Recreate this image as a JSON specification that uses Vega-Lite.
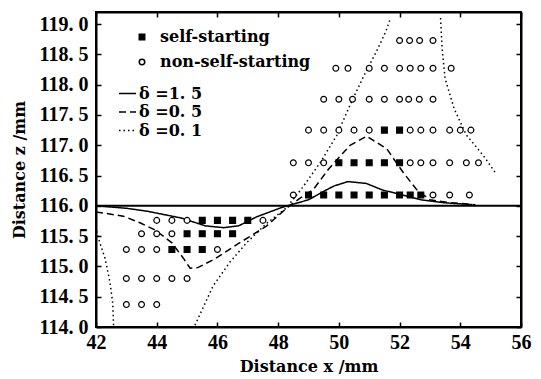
{
  "$schema": "https://vega.github.io/schema/vega-lite/v6.json",
  "width": 425,
  "height": 315,
  "autosize": "none",
  "padding": {"left": 96, "top": 12, "right": 20, "bottom": 52},
  "background": "white",
  "config": {
    "view": {"stroke": "black", "strokeWidth": 2},
    "axis": {
      "domainColor": "black", "domainWidth": 2, "tickColor": "black", "tickWidth": 1.5, "tickSize": -5,
      "labelFont": "Liberation Serif", "labelFontWeight": "bold", "labelFontSize": 20, "labelColor": "black",
      "titleFont": "DejaVu Serif", "titleFontWeight": "bold", "titleFontSize": 16, "titleColor": "black",
      "grid": false, "labelFlush": false
    }
  },
  "datasets": {
    "hline": [{"x": 42, "y": 116}, {"x": 56, "y": 116}],
    "curves": [
      {"x": 42, "y": 116.0, "d": "δ =1. 5", "seg": "a"},
      {"x": 43, "y": 115.96, "d": "δ =1. 5", "seg": "a"},
      {"x": 43.7, "y": 115.91, "d": "δ =1. 5", "seg": "a"},
      {"x": 44.8, "y": 115.8, "d": "δ =1. 5", "seg": "a"},
      {"x": 45.6, "y": 115.67, "d": "δ =1. 5", "seg": "a"},
      {"x": 46.2, "y": 115.64, "d": "δ =1. 5", "seg": "a"},
      {"x": 46.7, "y": 115.67, "d": "δ =1. 5", "seg": "a"},
      {"x": 47.3, "y": 115.82, "d": "δ =1. 5", "seg": "a"},
      {"x": 48.1, "y": 115.97, "d": "δ =1. 5", "seg": "a"},
      {"x": 48.3, "y": 116.0, "d": "δ =1. 5", "seg": "a"},
      {"x": 49.0, "y": 116.1, "d": "δ =1. 5", "seg": "a"},
      {"x": 49.5, "y": 116.24, "d": "δ =1. 5", "seg": "a"},
      {"x": 49.85, "y": 116.33, "d": "δ =1. 5", "seg": "a"},
      {"x": 50.3, "y": 116.4, "d": "δ =1. 5", "seg": "a"},
      {"x": 50.9, "y": 116.37, "d": "δ =1. 5", "seg": "a"},
      {"x": 51.45, "y": 116.26, "d": "δ =1. 5", "seg": "a"},
      {"x": 52.1, "y": 116.18, "d": "δ =1. 5", "seg": "a"},
      {"x": 52.7, "y": 116.1, "d": "δ =1. 5", "seg": "a"},
      {"x": 53.5, "y": 116.05, "d": "δ =1. 5", "seg": "a"},
      {"x": 54.4, "y": 116.02, "d": "δ =1. 5", "seg": "a"},
      {"x": 42, "y": 115.9, "d": "δ =0. 5", "seg": "b"},
      {"x": 42.9, "y": 115.83, "d": "δ =0. 5", "seg": "b"},
      {"x": 43.45, "y": 115.72, "d": "δ =0. 5", "seg": "b"},
      {"x": 43.95, "y": 115.6, "d": "δ =0. 5", "seg": "b"},
      {"x": 44.5, "y": 115.39, "d": "δ =0. 5", "seg": "b"},
      {"x": 44.9, "y": 115.12, "d": "δ =0. 5", "seg": "b"},
      {"x": 45.1, "y": 114.97, "d": "δ =0. 5", "seg": "b"},
      {"x": 45.35, "y": 114.98, "d": "δ =0. 5", "seg": "b"},
      {"x": 45.9, "y": 115.12, "d": "δ =0. 5", "seg": "b"},
      {"x": 46.7, "y": 115.38, "d": "δ =0. 5", "seg": "b"},
      {"x": 47.6, "y": 115.66, "d": "δ =0. 5", "seg": "b"},
      {"x": 48.3, "y": 115.97, "d": "δ =0. 5", "seg": "b"},
      {"x": 48.7, "y": 116.12, "d": "δ =0. 5", "seg": "b"},
      {"x": 49.16, "y": 116.27, "d": "δ =0. 5", "seg": "b"},
      {"x": 49.65, "y": 116.6, "d": "δ =0. 5", "seg": "b"},
      {"x": 50.37, "y": 117.0, "d": "δ =0. 5", "seg": "b"},
      {"x": 50.92, "y": 117.15, "d": "δ =0. 5", "seg": "b"},
      {"x": 51.58, "y": 116.94, "d": "δ =0. 5", "seg": "b"},
      {"x": 52.12, "y": 116.55, "d": "δ =0. 5", "seg": "b"},
      {"x": 52.56, "y": 116.27, "d": "δ =0. 5", "seg": "b"},
      {"x": 53.0, "y": 116.1, "d": "δ =0. 5", "seg": "b"},
      {"x": 53.7, "y": 116.05, "d": "δ =0. 5", "seg": "b"},
      {"x": 54.5, "y": 116.02, "d": "δ =0. 5", "seg": "b"},
      {"x": 42.02, "y": 115.58, "d": "δ =0. 1", "seg": "c1"},
      {"x": 42.12, "y": 115.4, "d": "δ =0. 1", "seg": "c1"},
      {"x": 42.3, "y": 115.13, "d": "δ =0. 1", "seg": "c1"},
      {"x": 42.46, "y": 114.74, "d": "δ =0. 1", "seg": "c1"},
      {"x": 42.55, "y": 114.4, "d": "δ =0. 1", "seg": "c1"},
      {"x": 42.58, "y": 114.0, "d": "δ =0. 1", "seg": "c1"},
      {"x": 45.26, "y": 114.03, "d": "δ =0. 1", "seg": "c2"},
      {"x": 45.86, "y": 114.68, "d": "δ =0. 1", "seg": "c2"},
      {"x": 46.41, "y": 115.07, "d": "δ =0. 1", "seg": "c2"},
      {"x": 46.96, "y": 115.39, "d": "δ =0. 1", "seg": "c2"},
      {"x": 47.62, "y": 115.71, "d": "δ =0. 1", "seg": "c2"},
      {"x": 48.28, "y": 115.97, "d": "δ =0. 1", "seg": "c2"},
      {"x": 48.8, "y": 116.3, "d": "δ =0. 1", "seg": "c2"},
      {"x": 49.38, "y": 116.71, "d": "δ =0. 1", "seg": "c2"},
      {"x": 49.93, "y": 117.16, "d": "δ =0. 1", "seg": "c2"},
      {"x": 50.4, "y": 117.7, "d": "δ =0. 1", "seg": "c2"},
      {"x": 50.8, "y": 118.12, "d": "δ =0. 1", "seg": "c2"},
      {"x": 51.25, "y": 118.56, "d": "δ =0. 1", "seg": "c2"},
      {"x": 51.55, "y": 118.88, "d": "δ =0. 1", "seg": "c2"},
      {"x": 51.7, "y": 119.1, "d": "δ =0. 1", "seg": "c2"},
      {"x": 53.35, "y": 119.1, "d": "δ =0. 1", "seg": "c3"},
      {"x": 53.4, "y": 118.6, "d": "δ =0. 1", "seg": "c3"},
      {"x": 53.5, "y": 118.1, "d": "δ =0. 1", "seg": "c3"},
      {"x": 53.8, "y": 117.6, "d": "δ =0. 1", "seg": "c3"},
      {"x": 54.2, "y": 117.17, "d": "δ =0. 1", "seg": "c3"},
      {"x": 54.76, "y": 116.83, "d": "δ =0. 1", "seg": "c3"},
      {"x": 55.15, "y": 116.55, "d": "δ =0. 1", "seg": "c3"}
    ],
    "points": [
      {"x": 44, "y": 115.76, "t": "non-self-starting"},
      {"x": 44.5, "y": 115.76, "t": "non-self-starting"},
      {"x": 45, "y": 115.76, "t": "non-self-starting"},
      {"x": 45.5, "y": 115.76, "t": "self-starting"},
      {"x": 46, "y": 115.76, "t": "self-starting"},
      {"x": 46.5, "y": 115.76, "t": "self-starting"},
      {"x": 47, "y": 115.76, "t": "self-starting"},
      {"x": 47.5, "y": 115.76, "t": "non-self-starting"},
      {"x": 43.5, "y": 115.54, "t": "non-self-starting"},
      {"x": 44, "y": 115.54, "t": "non-self-starting"},
      {"x": 44.5, "y": 115.54, "t": "non-self-starting"},
      {"x": 45, "y": 115.54, "t": "self-starting"},
      {"x": 45.5, "y": 115.54, "t": "self-starting"},
      {"x": 46, "y": 115.54, "t": "self-starting"},
      {"x": 46.5, "y": 115.54, "t": "self-starting"},
      {"x": 43, "y": 115.28, "t": "non-self-starting"},
      {"x": 43.5, "y": 115.28, "t": "non-self-starting"},
      {"x": 44, "y": 115.28, "t": "non-self-starting"},
      {"x": 44.5, "y": 115.28, "t": "self-starting"},
      {"x": 45, "y": 115.28, "t": "self-starting"},
      {"x": 45.5, "y": 115.28, "t": "self-starting"},
      {"x": 46, "y": 115.28, "t": "non-self-starting"},
      {"x": 43, "y": 114.8, "t": "non-self-starting"},
      {"x": 43.5, "y": 114.8, "t": "non-self-starting"},
      {"x": 44, "y": 114.8, "t": "non-self-starting"},
      {"x": 44.5, "y": 114.8, "t": "non-self-starting"},
      {"x": 45, "y": 114.8, "t": "non-self-starting"},
      {"x": 43, "y": 114.37, "t": "non-self-starting"},
      {"x": 43.5, "y": 114.37, "t": "non-self-starting"},
      {"x": 44, "y": 114.37, "t": "non-self-starting"},
      {"x": 52.0, "y": 118.73, "t": "non-self-starting"},
      {"x": 52.33, "y": 118.73, "t": "non-self-starting"},
      {"x": 52.66, "y": 118.73, "t": "non-self-starting"},
      {"x": 53.1, "y": 118.73, "t": "non-self-starting"},
      {"x": 49.9, "y": 118.27, "t": "non-self-starting"},
      {"x": 50.3, "y": 118.27, "t": "non-self-starting"},
      {"x": 51.0, "y": 118.27, "t": "non-self-starting"},
      {"x": 51.5, "y": 118.27, "t": "non-self-starting"},
      {"x": 52.0, "y": 118.27, "t": "non-self-starting"},
      {"x": 52.35, "y": 118.27, "t": "non-self-starting"},
      {"x": 52.7, "y": 118.27, "t": "non-self-starting"},
      {"x": 53.1, "y": 118.27, "t": "non-self-starting"},
      {"x": 53.7, "y": 118.27, "t": "non-self-starting"},
      {"x": 49.5, "y": 117.76, "t": "non-self-starting"},
      {"x": 50.0, "y": 117.76, "t": "non-self-starting"},
      {"x": 50.45, "y": 117.76, "t": "non-self-starting"},
      {"x": 51.0, "y": 117.76, "t": "non-self-starting"},
      {"x": 51.5, "y": 117.76, "t": "non-self-starting"},
      {"x": 52.0, "y": 117.76, "t": "non-self-starting"},
      {"x": 52.3, "y": 117.76, "t": "non-self-starting"},
      {"x": 52.65, "y": 117.76, "t": "non-self-starting"},
      {"x": 53.1, "y": 117.76, "t": "non-self-starting"},
      {"x": 49.0, "y": 117.25, "t": "non-self-starting"},
      {"x": 49.5, "y": 117.25, "t": "non-self-starting"},
      {"x": 50.0, "y": 117.25, "t": "non-self-starting"},
      {"x": 50.5, "y": 117.25, "t": "non-self-starting"},
      {"x": 51.0, "y": 117.25, "t": "non-self-starting"},
      {"x": 51.5, "y": 117.25, "t": "self-starting"},
      {"x": 52.0, "y": 117.25, "t": "self-starting"},
      {"x": 52.35, "y": 117.25, "t": "non-self-starting"},
      {"x": 52.7, "y": 117.25, "t": "non-self-starting"},
      {"x": 53.1, "y": 117.25, "t": "non-self-starting"},
      {"x": 53.65, "y": 117.25, "t": "non-self-starting"},
      {"x": 54.0, "y": 117.25, "t": "non-self-starting"},
      {"x": 54.35, "y": 117.25, "t": "non-self-starting"},
      {"x": 48.5, "y": 116.71, "t": "non-self-starting"},
      {"x": 49.0, "y": 116.71, "t": "non-self-starting"},
      {"x": 49.5, "y": 116.71, "t": "non-self-starting"},
      {"x": 50.0, "y": 116.71, "t": "self-starting"},
      {"x": 50.5, "y": 116.71, "t": "self-starting"},
      {"x": 51.0, "y": 116.71, "t": "self-starting"},
      {"x": 51.5, "y": 116.71, "t": "self-starting"},
      {"x": 52.0, "y": 116.71, "t": "self-starting"},
      {"x": 52.35, "y": 116.71, "t": "non-self-starting"},
      {"x": 52.7, "y": 116.71, "t": "non-self-starting"},
      {"x": 53.1, "y": 116.71, "t": "non-self-starting"},
      {"x": 53.65, "y": 116.71, "t": "non-self-starting"},
      {"x": 54.2, "y": 116.71, "t": "non-self-starting"},
      {"x": 54.6, "y": 116.71, "t": "non-self-starting"},
      {"x": 48.5, "y": 116.18, "t": "non-self-starting"},
      {"x": 49.0, "y": 116.18, "t": "self-starting"},
      {"x": 49.5, "y": 116.18, "t": "self-starting"},
      {"x": 50.0, "y": 116.18, "t": "self-starting"},
      {"x": 50.5, "y": 116.18, "t": "self-starting"},
      {"x": 51.0, "y": 116.18, "t": "self-starting"},
      {"x": 51.5, "y": 116.18, "t": "self-starting"},
      {"x": 52.0, "y": 116.18, "t": "self-starting"},
      {"x": 52.35, "y": 116.18, "t": "self-starting"},
      {"x": 52.7, "y": 116.18, "t": "self-starting"},
      {"x": 53.1, "y": 116.18, "t": "non-self-starting"},
      {"x": 53.65, "y": 116.18, "t": "non-self-starting"},
      {"x": 54.3, "y": 116.18, "t": "non-self-starting"}
    ]
  },
  "layer": [
    {
      "data": {"name": "hline"},
      "mark": {"type": "line", "color": "black", "strokeWidth": 2},
      "encoding": {
        "x": {"field": "x", "type": "quantitative", "scale": {"domain": [42, 56], "nice": false, "zero": false},
              "axis": {"orient": "bottom", "values": [42, 44, 46, 48, 50, 52, 54, 56], "format": "d", "title": "Distance x /mm", "labelPadding": 10, "titlePadding": 6}},
        "y": {"field": "y", "type": "quantitative", "scale": {"domain": [114, 119.2], "nice": false, "zero": false},
              "axis": {"orient": "left", "values": [114, 114.5, 115, 115.5, 116, 116.5, 117, 117.5, 118, 118.5, 119], "labelExpr": "replace(format(datum.value, '.1f'), '.', '. ')", "title": "Distance z /mm", "labelPadding": 13, "titlePadding": 12}}
      }
    },
    {
      "data": {"name": "curves"},
      "mark": {"type": "line", "color": "black", "strokeWidth": 1.5},
      "encoding": {
        "x": {"field": "x", "type": "quantitative", "scale": {"domain": [42, 56], "nice": false, "zero": false}, "axis": null},
        "y": {"field": "y", "type": "quantitative", "scale": {"domain": [114, 119.2], "nice": false, "zero": false}, "axis": null},
        "detail": {"field": "seg"},
        "strokeDash": {"field": "d", "type": "nominal",
          "scale": {"domain": ["δ =1. 5", "δ =0. 5", "δ =0. 1"], "range": [[1, 0], [7, 4], [1.5, 3]]},
          "legend": {"orient": "none", "legendX": 22, "legendY": 72, "title": null, "padding": 0,
                     "labelFont": "DejaVu Serif", "labelFontWeight": "bold", "labelFontSize": 16, "labelColor": "black",
                     "symbolSize": 289, "labelOffset": 2, "rowPadding": 0.5, "symbolStrokeWidth": 1.5, "symbolStrokeColor": "black", "symbolType": "stroke", "labelLimit": 300}}
      }
    },
    {
      "data": {"name": "points"},
      "mark": {"type": "point", "filled": true, "stroke": "black", "strokeWidth": 1.2, "size": 34, "opacity": 1},
      "encoding": {
        "x": {"field": "x", "type": "quantitative", "scale": {"domain": [42, 56], "nice": false, "zero": false}, "axis": null},
        "y": {"field": "y", "type": "quantitative", "scale": {"domain": [114, 119.2], "nice": false, "zero": false}, "axis": null},
        "shape": {"field": "t", "type": "nominal", "scale": {"domain": ["self-starting", "non-self-starting"], "range": ["square", "circle"]},
          "legend": {"orient": "none", "legendX": 38, "legendY": 17, "title": null, "padding": 0,
                     "labelFont": "DejaVu Serif", "labelFontWeight": "bold", "labelFontSize": 16, "labelColor": "black",
                     "symbolSize": 30, "labelOffset": 10, "rowPadding": 9, "labelLimit": 300,
                     "encode": {"symbols": {"update": {"stroke": {"value": "black"}, "strokeWidth": {"value": 1.2}}}}}},
        "fill": {"field": "t", "type": "nominal", "scale": {"domain": ["self-starting", "non-self-starting"], "range": ["black", "white"]},
          "legend": {"orient": "none", "legendX": 38, "legendY": 17, "title": null, "padding": 0,
                     "labelFont": "DejaVu Serif", "labelFontWeight": "bold", "labelFontSize": 16, "labelColor": "black",
                     "symbolSize": 30, "labelOffset": 10, "rowPadding": 9, "labelLimit": 300,
                     "encode": {"symbols": {"update": {"stroke": {"value": "black"}, "strokeWidth": {"value": 1.2}}}}}}
      }
    },
    {
      "data": {"name": "hline"},
      "mark": {"type": "line", "color": "black", "strokeOpacity": 0},
      "encoding": {
        "x": {"field": "x", "type": "quantitative", "scale": {"domain": [42, 56], "nice": false, "zero": false},
              "axis": {"orient": "top", "values": [42, 44, 46, 48, 50, 52, 54, 56], "labels": false, "title": null}},
        "y": {"field": "y", "type": "quantitative", "scale": {"domain": [114, 119.2], "nice": false, "zero": false},
              "axis": {"orient": "right", "values": [114, 114.5, 115, 115.5, 116, 116.5, 117, 117.5, 118, 118.5, 119], "labels": false, "title": null}}
      }
    }
  ],
  "resolve": {"axis": {"x": "independent", "y": "independent"}}
}
